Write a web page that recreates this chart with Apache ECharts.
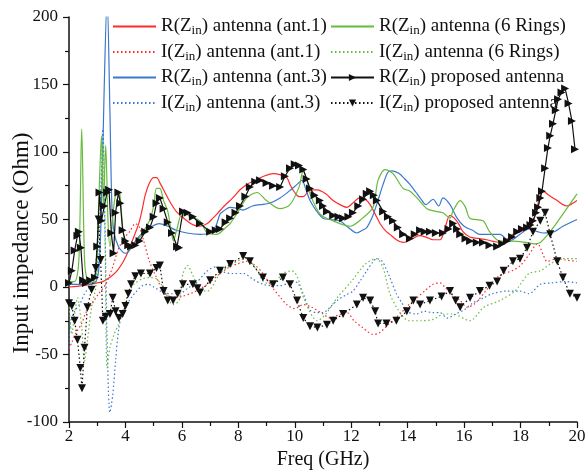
<!DOCTYPE html>
<html><head><meta charset="utf-8">
<script src="https://cdn.jsdelivr.net/npm/echarts@6/dist/echarts.min.js"></script>
<style>html,body{margin:0;padding:0;background:#fff}#c{width:586px;height:476px}</style>
</head><body><div id="c"></div>
<script>
const xTicks = [2,4,6,8,10,12,14,16,18,20];
const yTicks = [-100,-50,0,50,100,150,200];
const seriesNames = [
  'R(Zin) antenna (ant.1)','I(Zin) antenna (ant.1)','R(Zin) antenna (ant.3)','I(Zin) antenna (ant.3)',
  'R(Zin) antenna (6 Rings)','I(Zin) antenna (6 Rings)','R(Zin) proposed antenna','I(Zin) proposed antenna'
];
const rAnt1 = [[2.0,0],[2.5,1],[3.0,3],[3.2,4],[3.5,8],[3.7,12],[3.9,18],[4.05,24],[4.2,32],[4.35,40],[4.5,49],[4.6,58],[4.7,68],[4.85,77],[5.0,81],[5.1,81],[5.25,76],[5.4,70],[5.58,63],[5.8,56],[6.0,52],[6.18,49],[6.4,46],[6.64,45],[6.9,47],[7.1,51],[7.24,54],[7.5,60],[7.8,66],[8.06,72],[8.3,76],[8.6,79],[8.9,82],[9.23,84],[9.5,83],[9.72,81],[9.85,75],[10.0,70],[10.15,67],[10.3,67],[10.55,72],[10.8,72],[11.1,69],[11.36,64],[11.6,61],[11.85,59],[12.05,62],[12.3,66],[12.5,65],[12.67,61],[12.85,54],[13.02,47],[13.2,42],[13.37,39],[13.6,35],[13.84,33],[14.0,34],[14.19,36],[14.4,38],[14.65,37],[14.9,35],[15.15,35],[15.3,42],[15.5,53],[15.65,51],[15.8,47],[15.96,41],[16.2,37],[16.5,36],[16.8,35],[17.0,34],[17.27,33],[17.5,35],[17.73,39],[18.0,41],[18.34,44],[18.5,52],[18.65,64],[18.8,71],[19.0,68],[19.3,64],[19.5,61],[19.65,60],[19.85,62],[20.0,64]];
const iAnt1 = [[2.0,-46],[2.1,-41],[2.25,-34],[2.45,-27],[2.6,-19],[2.8,-13],[3.05,-5],[3.3,2],[3.55,15],[3.75,28],[3.95,36],[4.15,41],[4.35,47],[4.5,44],[4.65,34],[4.85,19],[5.1,7],[5.35,-3],[5.7,-8],[6.0,-7],[6.4,-4],[6.9,2],[7.35,10],[7.7,15],[7.95,17],[8.3,19],[8.6,16],[8.87,10],[9.23,-1],[9.5,-8],[9.72,-13],[10.0,-16],[10.3,-13],[10.6,-15],[11.0,-20],[11.25,-23],[11.5,-21],[11.85,-19],[12.1,-25],[12.4,-30],[12.77,-35],[13.0,-34],[13.3,-28],[13.73,-20],[14.0,-14],[14.33,-8],[14.6,-3],[14.9,2],[15.15,3],[15.35,-1],[15.6,-6],[15.86,-10],[16.1,-15],[16.4,-12],[16.8,-2],[17.1,6],[17.4,10],[17.7,12],[18.0,16],[18.3,24],[18.6,32],[18.8,24],[18.94,19],[19.3,21],[19.6,20],[20.0,19]];
const rAnt3 = [[2.0,2],[2.5,2],[2.9,3],[3.05,12],[3.15,60],[3.25,150],[3.35,215],[3.45,130],[3.52,60],[3.6,40],[3.75,30],[3.9,26],[4.0,25],[4.1,26],[4.35,34],[4.6,40],[4.87,44],[5.2,47],[5.5,45],[5.8,42],[6.18,40],[6.64,39],[7.0,40],[7.2,45],[7.35,54],[7.46,56],[7.7,59],[8.0,58],[8.17,57],[8.5,60],[8.77,61],[9.1,62],[9.48,66],[9.8,71],[10.08,76],[10.25,79],[10.4,72],[10.54,64],[10.75,57],[11.0,51],[11.3,50],[11.6,49],[11.9,44],[12.2,40],[12.4,42],[12.55,44],[12.75,52],[12.9,61],[13.13,76],[13.3,85],[13.45,86],[13.7,84],[13.9,80],[14.08,76],[14.3,70],[14.44,66],[14.65,61],[14.9,65],[15.1,60],[15.25,66],[15.5,61],[15.75,51],[16.0,45],[16.3,42],[16.56,39],[17.0,39],[17.27,39],[17.6,34],[17.98,39],[18.3,43],[18.6,41],[18.8,40],[19.2,41],[19.5,45],[20.0,50]];
const iAnt3 = [[2.0,-45],[2.05,-27],[2.2,-18],[2.4,-12],[2.55,-5],[2.8,2],[3.0,8],[3.1,40],[3.2,117],[3.28,40],[3.35,-40],[3.45,-93],[3.55,-80],[3.65,-55],[3.75,-33],[3.85,-22],[4.0,-15],[4.2,-8],[4.4,-3],[4.6,1],[4.8,2],[5.0,0],[5.33,-4],[5.6,-5],[5.9,-5],[6.2,-1],[6.55,4],[6.85,11],[7.05,14],[7.24,15],[7.5,11],[7.8,10],[8.2,10],[8.5,6],[8.87,2],[9.2,1],[9.48,1],[9.8,3],[9.94,4],[10.1,3],[10.3,-5],[10.54,-17],[10.8,-19],[11.0,-19],[11.25,-15],[11.5,-10],[11.8,-6],[12.06,-3],[12.3,4],[12.55,12],[12.75,18],[12.9,21],[13.1,19],[13.37,7],[13.6,-5],[13.8,-12],[13.97,-18],[14.3,-20],[14.6,-18],[14.9,-19],[15.15,-19],[15.4,-23],[15.7,-20],[16.0,-17],[16.3,-12],[16.7,-8],[17.0,-5],[17.5,-3],[17.98,-3],[18.3,-5],[18.7,2],[19.1,3],[19.6,4],[20.0,3]];
const r6Rings = [[2.0,4],[2.2,4],[2.35,20],[2.45,117],[2.55,20],[2.65,5],[2.8,3],[2.95,8],[3.05,60],[3.15,112],[3.22,60],[3.3,105],[3.38,50],[3.45,30],[3.6,62],[3.72,71],[3.8,69],[3.9,45],[4.0,32],[4.15,28],[4.35,32],[4.6,40],[4.87,50],[5.0,60],[5.1,73],[5.22,73],[5.35,64],[5.5,56],[5.6,44],[5.7,34],[5.8,41],[6.04,56],[6.3,52],[6.64,49],[6.9,40],[7.24,39],[7.5,43],[7.71,47],[8.0,56],[8.3,66],[8.66,70],[9.0,64],[9.48,58],[9.83,61],[10.15,74],[10.3,86],[10.45,78],[10.54,69],[10.9,54],[11.36,49],[11.96,45],[12.4,51],[12.77,59],[12.95,79],[13.2,87],[13.48,84],[13.84,73],[14.08,71],[14.33,66],[14.68,58],[15.0,56],[15.25,55],[15.5,51],[15.6,56],[15.86,64],[16.05,59],[16.2,51],[16.67,49],[16.9,41],[17.27,34],[17.7,34],[18.2,33],[18.5,32],[18.7,33],[19.05,41],[19.5,54],[20.0,69]];
const i6Rings = [[2.0,-12],[2.1,-35],[2.2,-20],[2.3,-8],[2.45,-30],[2.55,-55],[2.65,-40],[2.8,-15],[2.95,0],[3.1,60],[3.2,105],[3.28,30],[3.35,-60],[3.45,-45],[3.6,-35],[3.75,-28],[3.9,-18],[4.1,-5],[4.3,2],[4.6,6],[4.87,7],[5.1,6],[5.33,0],[5.69,-13],[5.9,-10],[6.04,10],[6.2,16],[6.4,8],[6.64,-2],[6.9,-3],[7.35,10],[7.71,16],[8.06,20],[8.3,21],[8.6,14],[8.9,4],[9.2,2],[9.58,10],[9.9,12],[10.1,7],[10.35,-10],[10.8,-25],[11.1,-20],[11.5,-8],[12.0,4],[12.5,17],[12.9,21],[13.13,14],[13.37,-5],[13.7,-18],[14.05,-25],[14.5,-25],[14.9,-24],[15.3,-20],[15.6,-20],[16.2,-25],[16.7,-15],[17.27,-10],[17.8,-3],[18.3,10],[18.7,12],[19.05,17],[19.45,21],[20.0,21]];
const rProposed = [[2.0,3],[2.1,12],[2.2,27],[2.3,38],[2.35,41],[2.42,29],[2.5,5],[2.6,3],[2.75,5],[2.92,7],[3.0,30],[3.08,70],[3.15,49],[3.25,60],[3.35,70],[3.42,72],[3.5,40],[3.58,25],[3.65,55],[3.75,70],[3.82,62],[3.9,42],[4.0,34],[4.1,31],[4.2,30],[4.35,31],[4.5,34],[4.7,41],[4.87,44],[5.0,52],[5.1,62],[5.22,66],[5.35,58],[5.5,48],[5.65,40],[5.83,30],[5.9,29],[6.04,56],[6.2,55],[6.39,52],[6.64,47],[7.0,41],[7.2,42],[7.35,43],[7.55,48],[7.71,51],[7.9,55],[8.06,60],[8.25,67],[8.41,74],[8.6,78],[8.77,79],[9.0,77],[9.23,75],[9.48,74],[9.65,82],[9.83,88],[10.0,91],[10.15,90],[10.3,87],[10.42,80],[10.54,73],[10.7,68],[10.89,64],[11.0,60],[11.14,56],[11.36,53],[11.55,52],[11.71,51],[11.9,52],[12.06,55],[12.25,60],[12.42,65],[12.55,69],[12.67,71],[12.8,68],[12.91,64],[13.13,56],[13.3,52],[13.48,49],[13.65,44],[13.84,39],[14.08,36],[14.25,39],[14.44,42],[14.6,41],[14.79,41],[15.0,40],[15.25,40],[15.45,43],[15.61,47],[15.75,43],[15.86,39],[16.05,36],[16.21,34],[16.45,33],[16.67,33],[16.9,31],[17.17,30],[17.35,32],[17.52,34],[17.7,37],[17.88,41],[18.05,43],[18.23,44],[18.35,46],[18.44,49],[18.55,55],[18.62,59],[18.7,66],[18.76,71],[18.87,88],[18.97,103],[19.05,112],[19.15,121],[19.25,131],[19.33,139],[19.45,144],[19.58,147],[19.7,136],[19.82,123],[19.93,102]];
const iProposed = [[2.0,-12],[2.1,-14],[2.2,-25],[2.3,-39],[2.4,-60],[2.46,-75],[2.55,-45],[2.65,-15],[2.8,-2],[2.95,14],[3.05,50],[3.12,20],[3.2,-25],[3.3,-22],[3.45,-20],[3.55,-8],[3.65,-18],[3.77,-23],[3.9,-20],[4.0,-14],[4.1,-5],[4.2,2],[4.35,8],[4.55,10],[4.87,10],[5.1,14],[5.22,16],[5.35,-3],[5.5,-10],[5.69,-10],[5.85,-5],[6.04,2],[6.39,2],[6.55,-1],[6.64,-4],[7.0,5],[7.35,12],[7.71,17],[8.17,23],[8.41,19],[8.87,7],[9.23,2],[9.58,7],[9.83,2],[10.08,-10],[10.3,-23],[10.54,-29],[10.8,-30],[11.14,-28],[11.36,-25],[11.71,-20],[12.2,-13],[12.42,-8],[12.67,-10],[12.85,-18],[12.95,-27],[13.25,-27],[13.6,-25],[13.97,-18],[14.2,-10],[14.44,-13],[14.79,-10],[15.2,-7],[15.5,-3],[15.7,-10],[15.86,-15],[16.21,-8],[16.56,-3],[16.9,1],[17.17,4],[17.4,12],[17.73,19],[17.98,21],[18.23,29],[18.44,41],[18.7,49],[18.87,55],[19.05,39],[19.3,19],[19.5,7],[19.75,-5],[20.0,-8]];

const FONT = 'Liberation Serif';
const RED = '#ff2b2b', BLUE = '#3b78cc', GREEN = '#66bb3c', BLACK = '#111';
const DOT = [1.5, 2.5];

function colored(name, data, color, dotted) {
  return {
    name, type: 'line', data, symbol: 'none', smooth: 0.3,
    lineStyle: { color, width: 1.2, type: dotted ? DOT : 'solid' },
    itemStyle: { color }
  };
}
function fmt(name) {
  const i = name.indexOf('Zin');
  return '{a|' + name.slice(0, i + 1) + '}{s|in}{a|' + name.slice(i + 3) + '}';
}
function legendItems(names) {
  return names.map(n => n.indexOf('proposed') >= 0 ? { name: n } : { name: n, itemStyle: { opacity: 0 } });
}
const legendCommon = {
  orient: 'vertical', itemWidth: 43, itemHeight: 9, itemGap: 5, padding: 0,
  formatter: fmt,
  textStyle: {
    color: '#111',
    rich: {
      a: { fontFamily: FONT, fontSize: 19, color: '#111', lineHeight: 22 },
      s: { fontFamily: FONT, fontSize: 13, color: '#111', lineHeight: 12, verticalAlign: 'bottom' }
    }
  }
};

const chart = echarts.init(document.getElementById('c'), null, { renderer: 'canvas' });
chart.setOption({
  animation: false,
  backgroundColor: '#fff',
  grid: { left: 69, right: 9, top: 17, bottom: 54, containLabel: false, outerBoundsMode: 'none' },
  graphic: [{
    type: 'text', x: 22, y: 243, rotation: Math.PI / 2,
    style: { text: 'Input impedance (Ohm)', font: '23px "Liberation Serif"', fill: '#111', align: 'center', verticalAlign: 'middle' }
  }],
  legend: [
    Object.assign({}, legendCommon, { left: 112, top: 17, data: legendItems(seriesNames.slice(0, 4)) }),
    Object.assign({}, legendCommon, { left: 330, top: 17, data: legendItems(seriesNames.slice(4, 8)) })
  ],
  xAxis: {
    type: 'value', min: xTicks[0], max: xTicks[xTicks.length - 1], interval: 2,
    name: 'Freq (GHz)', nameLocation: 'middle', nameGap: 28,
    nameTextStyle: { fontFamily: FONT, fontSize: 20, color: '#111' },
    axisLine: { onZero: false, lineStyle: { color: '#111', width: 1.5 } },
    axisTick: { length: 6, lineStyle: { color: '#111', width: 1.2 } },
    minorTick: { show: true, splitNumber: 2, length: 4, lineStyle: { color: '#111', width: 1.2 } },
    axisLabel: { fontFamily: FONT, fontSize: 17, color: '#111', margin: 6 },
    splitLine: { show: false }
  },
  yAxis: {
    type: 'value', min: yTicks[0], max: yTicks[yTicks.length - 1], interval: 50,
    axisLine: { show: true, lineStyle: { color: '#111', width: 1.5 } },
    axisTick: { show: true, length: 6, lineStyle: { color: '#111', width: 1.2 } },
    minorTick: { show: true, splitNumber: 2, length: 4, lineStyle: { color: '#111', width: 1.2 } },
    axisLabel: { fontFamily: FONT, fontSize: 17, color: '#111', margin: 11 },
    splitLine: { show: false }
  },
  series: [
    colored(seriesNames[0], rAnt1, RED, false),
    colored(seriesNames[1], iAnt1, RED, true),
    colored(seriesNames[2], rAnt3, BLUE, false),
    colored(seriesNames[3], iAnt3, BLUE, true),
    colored(seriesNames[4], r6Rings, GREEN, false),
    colored(seriesNames[5], i6Rings, GREEN, true),
    {
      name: seriesNames[6], type: 'line', data: rProposed,
      symbol: 'triangle', symbolSize: 8, symbolRotate: -90,
      lineStyle: { color: BLACK, width: 1.2 }, itemStyle: { color: BLACK }
    },
    {
      name: seriesNames[7], type: 'line', data: iProposed,
      symbol: 'triangle', symbolSize: 8, symbolRotate: 180,
      lineStyle: { color: BLACK, width: 1.2, type: DOT }, itemStyle: { color: BLACK }
    }
  ]
});
</script></body></html>
